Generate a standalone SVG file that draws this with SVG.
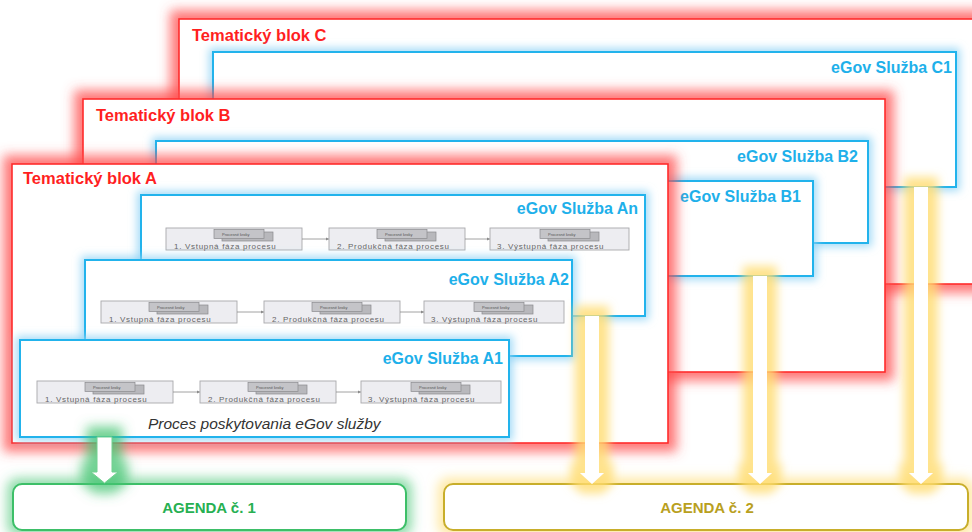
<svg xmlns="http://www.w3.org/2000/svg" width="972" height="532" viewBox="0 0 972 532">
<defs>
<style>
.blk{fill:#fff;stroke:#ff2a2a;stroke-width:1.6}
.ttl{font-family:"Liberation Sans",Arial,sans-serif;font-weight:bold;font-size:16.5px;fill:#ff1f1f}
.svc{fill:#fff;stroke:#22b3ec;stroke-width:2}
.svl{font-family:"Liberation Sans",Arial,sans-serif;font-weight:bold;font-size:16px;fill:#1eb0ea;text-anchor:end}
.pb{fill:#ededf1;stroke:#a8a8ac;stroke-width:0.9}
.pk1{fill:#c4c4c8;stroke:#8a8a8e;stroke-width:0.7}
.pk2{fill:#b8b8bc;stroke:#8a8a8e;stroke-width:0.7}
.pkt{font-family:"Liberation Sans",Arial,sans-serif;font-size:4px;fill:#555}
.pl{font-family:"Liberation Sans",Arial,sans-serif;font-size:8px;letter-spacing:0.7px;fill:#666}
.pa{stroke:#8a8a8a;stroke-width:0.8;fill:none}
.cap{font-family:"Liberation Sans",Arial,sans-serif;font-style:italic;font-size:15.5px;fill:#333}
.arr{fill:#fff}
.ag1{fill:#fff;stroke:#3cbf68;stroke-width:2}
.ag2{fill:#fff;stroke:#c8ae2c;stroke-width:2}
.agt{font-family:"Liberation Sans",Arial,sans-serif;font-weight:bold;font-size:15px;text-anchor:middle}
</style>
<filter id="gRed" x="-10%" y="-20%" width="120%" height="140%">
<feMorphology in="SourceAlpha" operator="dilate" radius="8" result="d"/>
<feGaussianBlur in="d" stdDeviation="6" result="b"/>
<feFlood flood-color="#ff4a4a" flood-opacity="0.75"/>
<feComposite in2="b" operator="in" result="g"/>
<feMerge><feMergeNode in="g"/><feMergeNode in="SourceGraphic"/></feMerge>
</filter>
<filter id="gBlue" x="-10%" y="-25%" width="120%" height="150%">
<feMorphology in="SourceAlpha" operator="dilate" radius="3" result="d"/>
<feGaussianBlur in="d" stdDeviation="4" result="b"/>
<feFlood flood-color="#8fd3f5" flood-opacity="0.8"/>
<feComposite in2="b" operator="in" result="g"/>
<feMerge><feMergeNode in="g"/><feMergeNode in="SourceGraphic"/></feMerge>
</filter>
<filter id="gYel" x="-200%" y="-30%" width="500%" height="160%">
<feMorphology in="SourceAlpha" operator="dilate" radius="10" result="d"/>
<feGaussianBlur in="d" stdDeviation="5" result="b"/>
<feFlood flood-color="#ffdc70" flood-opacity="0.8"/>
<feComposite in2="b" operator="in" result="g"/>
<feMerge><feMergeNode in="g"/><feMergeNode in="SourceGraphic"/></feMerge>
</filter>
<filter id="gGrn" x="-200%" y="-80%" width="500%" height="260%">
<feMorphology in="SourceAlpha" operator="dilate" radius="10" result="d"/>
<feGaussianBlur in="d" stdDeviation="6" result="b"/>
<feFlood flood-color="#43c471" flood-opacity="0.75"/>
<feComposite in2="b" operator="in" result="g"/>
<feMerge><feMergeNode in="g"/><feMergeNode in="SourceGraphic"/></feMerge>
</filter>
<filter id="gAgG" x="-10%" y="-60%" width="120%" height="220%">
<feMorphology in="SourceAlpha" operator="dilate" radius="5" result="d"/>
<feGaussianBlur in="d" stdDeviation="6" result="b"/>
<feFlood flood-color="#43c471" flood-opacity="0.6"/>
<feComposite in2="b" operator="in" result="g"/>
<feMerge><feMergeNode in="g"/><feMergeNode in="SourceGraphic"/></feMerge>
</filter>
<filter id="gAgY" x="-10%" y="-60%" width="120%" height="220%">
<feMorphology in="SourceAlpha" operator="dilate" radius="5" result="d"/>
<feGaussianBlur in="d" stdDeviation="6" result="b"/>
<feFlood flood-color="#ffdc70" flood-opacity="0.65"/>
<feComposite in2="b" operator="in" result="g"/>
<feMerge><feMergeNode in="g"/><feMergeNode in="SourceGraphic"/></feMerge>
</filter>
<marker id="ah" viewBox="0 0 6 6" refX="6" refY="3" markerWidth="4" markerHeight="4" orient="auto">
<path d="M0,0 L6,3 L0,6 Z" fill="#8a8a8a"/>
</marker>
</defs>

<rect width="972" height="532" fill="#fff"/>

<g id="blokC">
<rect class="blk" x="179" y="19" width="830" height="265" filter="url(#gRed)"/>
<text class="ttl" x="192" y="41">Tematický blok C</text>
</g>
<g id="sluzbaC1">
<rect class="svc" x="213" y="52" width="743" height="135" filter="url(#gBlue)"/>
<text class="svl" x="952" y="73">eGov Služba C1</text>
</g>

<g id="blokB">
<rect class="blk" x="83" y="99" width="802" height="273" filter="url(#gRed)"/>
<text class="ttl" x="96" y="121">Tematický blok B</text>
</g>
<g id="sluzbaB2">
<rect class="svc" x="156" y="141" width="712" height="102" filter="url(#gBlue)"/>
<text class="svl" x="858" y="162">eGov Služba B2</text>
</g>
<g id="sluzbaB1">
<rect class="svc" x="560" y="181" width="253" height="95" filter="url(#gBlue)"/>
<text class="svl" x="801" y="202">eGov Služba B1</text>
</g>

<g id="blokA">
<rect class="blk" x="12" y="164" width="656" height="279" filter="url(#gRed)"/>
<text class="ttl" x="23" y="184">Tematický blok A</text>
</g>

<g id="sluzbaAn">
<rect class="svc" x="141" y="195" width="504" height="121" filter="url(#gBlue)"/>
<text class="svl" x="638" y="214">eGov Služba An</text>
<g transform="translate(166,228)">
<rect class="pb" x="0" y="0" width="136" height="22"/>
<rect class="pk2" x="56" y="4" width="51" height="9"/>
<rect class="pk1" x="48" y="1.5" width="50" height="9"/>
<text class="pkt" x="56" y="7.5">Procesné kroky</text>
<text class="pl" x="8" y="20.5">1. Vstupná fáza procesu</text>
<line class="pa" x1="136" y1="11" x2="163" y2="11" marker-end="url(#ah)"/>
<rect class="pb" x="163" y="0" width="136" height="22"/>
<rect class="pk2" x="219" y="4" width="51" height="9"/>
<rect class="pk1" x="211" y="1.5" width="50" height="9"/>
<text class="pkt" x="219" y="7.5">Procesné kroky</text>
<text class="pl" x="171" y="20.5">2. Produkčná fáza procesu</text>
<line class="pa" x1="299" y1="11" x2="324" y2="11" marker-end="url(#ah)"/>
<rect class="pb" x="324" y="0" width="139" height="22"/>
<rect class="pk2" x="382" y="4" width="51" height="9"/>
<rect class="pk1" x="374" y="1.5" width="50" height="9"/>
<text class="pkt" x="382" y="7.5">Procesné kroky</text>
<text class="pl" x="331" y="20.5">3. Výstupná fáza procesu</text>
</g>
</g>

<g id="sluzbaA2">
<rect class="svc" x="85" y="260" width="487" height="96" filter="url(#gBlue)"/>
<text class="svl" x="569" y="285">eGov Služba A2</text>
<g transform="translate(101,301)">
<rect class="pb" x="0" y="0" width="136" height="22"/>
<rect class="pk2" x="56" y="4" width="51" height="9"/>
<rect class="pk1" x="48" y="1.5" width="50" height="9"/>
<text class="pkt" x="56" y="7.5">Procesné kroky</text>
<text class="pl" x="8" y="20.5">1. Vstupná fáza procesu</text>
<line class="pa" x1="136" y1="11" x2="163" y2="11" marker-end="url(#ah)"/>
<rect class="pb" x="163" y="0" width="136" height="22"/>
<rect class="pk2" x="219" y="4" width="51" height="9"/>
<rect class="pk1" x="211" y="1.5" width="50" height="9"/>
<text class="pkt" x="219" y="7.5">Procesné kroky</text>
<text class="pl" x="171" y="20.5">2. Produkčná fáza procesu</text>
<line class="pa" x1="299" y1="11" x2="323" y2="11" marker-end="url(#ah)"/>
<rect class="pb" x="323" y="0" width="140" height="22"/>
<rect class="pk2" x="381" y="4" width="51" height="9"/>
<rect class="pk1" x="373" y="1.5" width="50" height="9"/>
<text class="pkt" x="381" y="7.5">Procesné kroky</text>
<text class="pl" x="330" y="20.5">3. Výstupná fáza procesu</text>
</g>
</g>

<g id="sluzbaA1">
<rect class="svc" x="20" y="340" width="489" height="97" filter="url(#gBlue)"/>
<text class="svl" x="503" y="364">eGov Služba A1</text>
<g transform="translate(37,381)">
<rect class="pb" x="0" y="0" width="136" height="22"/>
<rect class="pk2" x="56" y="4" width="51" height="9"/>
<rect class="pk1" x="48" y="1.5" width="50" height="9"/>
<text class="pkt" x="56" y="7.5">Procesné kroky</text>
<text class="pl" x="8" y="20.5">1. Vstupná fáza procesu</text>
<line class="pa" x1="136" y1="11" x2="163" y2="11" marker-end="url(#ah)"/>
<rect class="pb" x="163" y="0" width="136" height="22"/>
<rect class="pk2" x="219" y="4" width="51" height="9"/>
<rect class="pk1" x="211" y="1.5" width="50" height="9"/>
<text class="pkt" x="219" y="7.5">Procesné kroky</text>
<text class="pl" x="171" y="20.5">2. Produkčná fáza procesu</text>
<line class="pa" x1="299" y1="11" x2="324" y2="11" marker-end="url(#ah)"/>
<rect class="pb" x="324" y="0" width="140" height="22"/>
<rect class="pk2" x="382" y="4" width="51" height="9"/>
<rect class="pk1" x="374" y="1.5" width="50" height="9"/>
<text class="pkt" x="382" y="7.5">Procesné kroky</text>
<text class="pl" x="331" y="20.5">3. Výstupná fáza procesu</text>
</g>
<text class="cap" x="148" y="429">Proces poskytovania eGov služby</text>
</g>

<g id="agenda1">
<rect class="ag1" x="13" y="484" width="393" height="46" rx="9" filter="url(#gAgG)"/>
<text class="agt" x="209" y="513" fill="#27b052">AGENDA č. 1</text>
</g>
<g id="agenda2">
<rect class="ag2" x="444" y="484" width="524" height="46" rx="9" filter="url(#gAgY)"/>
<text class="agt" x="707" y="513" fill="#b9a01e">AGENDA č. 2</text>
</g>

<g id="connectors">
<path class="arr" filter="url(#gGrn)" stroke="#6fd08f" stroke-width="1" d="M97,437 L112,437 L112,472 L118,472 L104.5,483 L91,472 L97,472 Z"/>
<path class="arr" filter="url(#gYel)" d="M585,316 L599,316 L599,473 L604,473 L592,484 L580,473 L585,473 Z"/>
<path class="arr" filter="url(#gYel)" d="M753,276 L767,276 L767,473 L772,473 L760,484 L748,473 L753,473 Z"/>
<path class="arr" filter="url(#gYel)" d="M914,187 L928,187 L928,473 L933,473 L921,484 L909,473 L914,473 Z"/>
</g>
</svg>
